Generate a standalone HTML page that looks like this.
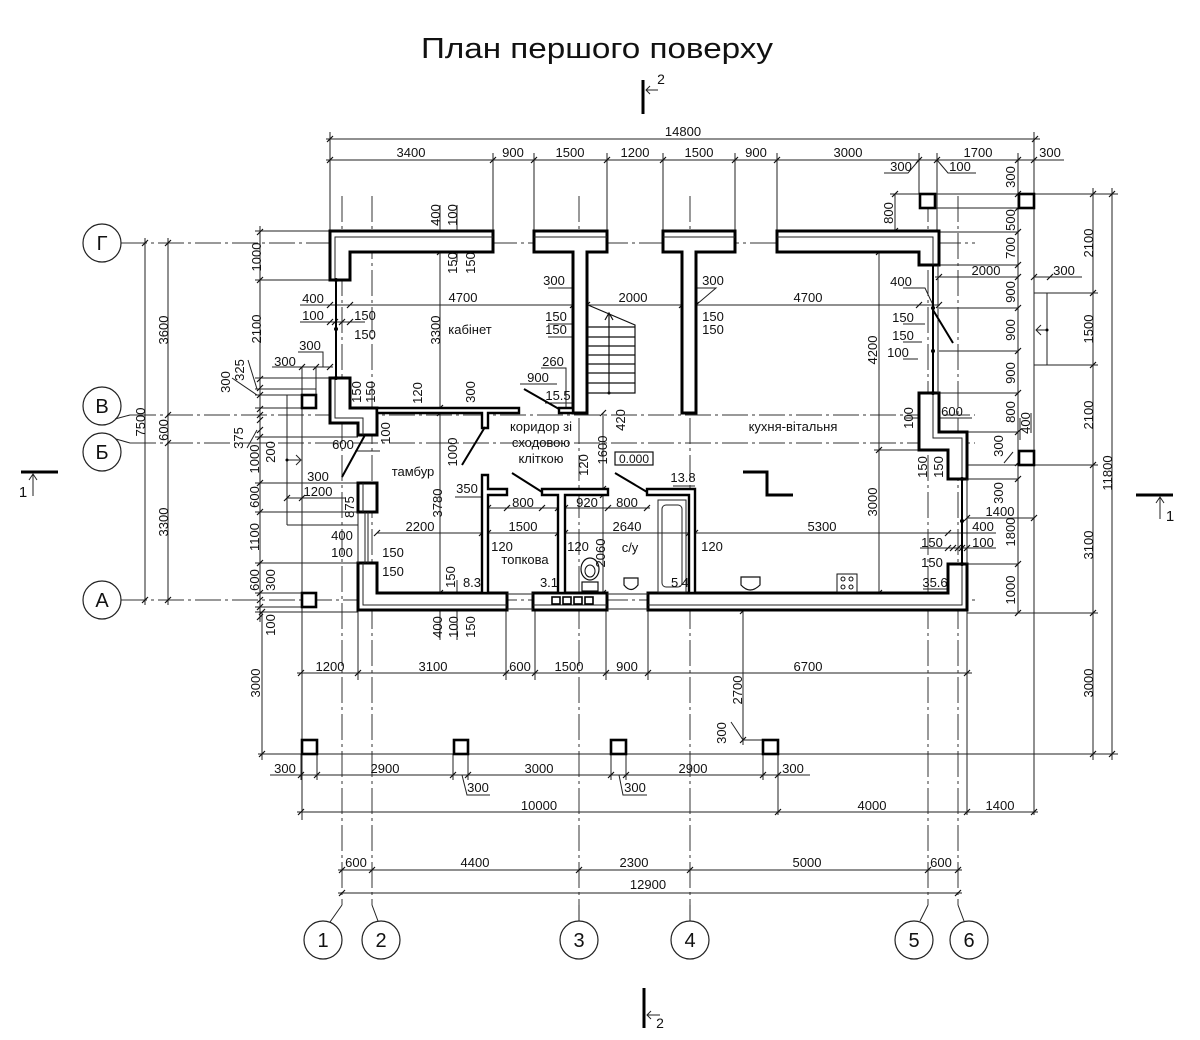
<!DOCTYPE html>
<html><head><meta charset="utf-8">
<style>
html,body{margin:0;padding:0;background:#fff}
svg{display:block}
text{font-family:"Liberation Sans",sans-serif;font-size:13px;fill:#111;text-anchor:middle}
.b{font-size:20px}
.th{stroke:#222;stroke-width:1;fill:none}
.ax{stroke:#333;stroke-width:1;fill:none;stroke-dasharray:26 4 3 4}
.w{fill:#fff;stroke:#000;stroke-width:3;stroke-linejoin:miter}
.p{fill:#fff;stroke:#000;stroke-width:2.4}
.tk{stroke:#111;stroke-width:1.2;fill:none}
.d{stroke:#000;stroke-width:2;fill:none}
</style></head><body>
<svg width="1200" height="1040" viewBox="0 0 1200 1040" xmlns="http://www.w3.org/2000/svg">
<rect width="1200" height="1040" fill="#fff"/>
<text x="597" y="58" style="font-size:29px" textLength="352" lengthAdjust="spacingAndGlyphs">План першого поверху</text>

<!-- axes -->
<path class="ax" d="M342 196V905M372 196V905M579 196V905M690 196V905M928 196V905M958 196V905M121 243H975M130 415H975M130 443H975M121 600H975"/>
<g fill="#fff" stroke="#222" stroke-width="1.2">
<circle cx="102" cy="243" r="19"/><circle cx="102" cy="406" r="19"/><circle cx="102" cy="452" r="19"/><circle cx="102" cy="600" r="19"/>
<circle cx="323" cy="940" r="19"/><circle cx="381" cy="940" r="19"/><circle cx="579" cy="940" r="19"/><circle cx="690" cy="940" r="19"/><circle cx="914" cy="940" r="19"/><circle cx="969" cy="940" r="19"/>
</g>
<path class="th" d="M115 419L130 415M116 439L130 443M330 922L342 905M378 921L372 905M579 921V905M690 921V905M920 921L928 905M964 921L958 905"/>
<text class="b" x="102" y="250">Г</text><text class="b" x="102" y="413">В</text><text class="b" x="102" y="459">Б</text><text class="b" x="102" y="607">А</text>
<text class="b" x="323" y="947">1</text><text class="b" x="381" y="947">2</text><text class="b" x="579" y="947">3</text><text class="b" x="690" y="947">4</text><text class="b" x="914" y="947">5</text><text class="b" x="969" y="947">6</text>

<!-- thin dimension & extension lines -->
<path class="th" d="M326 139H1040M326 160H1064M330 132V231M493 153V231M534 153V231M607 153V231M663 153V231M735 153V231M777 153V231M919 153V194M937 153V265M1018 153V613M1034 132V815M919 160L908 173H884M937 160L948 173H976"/>
<path class="th" d="M890 194H1118M935 208H1018M891 231H939M895 194V231M939 232H1018M939 265H1018M935 277H1018M1034 277H1082M939 308H1018M939 351H1018M1034 293H1098M1034 365H1098M1047 293V365M1036 330H1047M1041 325L1036 330L1041 335M939 393H1018M967 432H1018M967 465H1098M967 479H1018M967 518H1034M948 533H996M920 548H996M948 564H1018M967 613H1098M777 754H1118M1093 188V760M1112 188V760M1031 433V413M1004 463L1013 452"/>
<path class="th" d="M145 238V605M168 238V605M260 226V622M255 231H330M255 280H330M255 378H330M255 389H316M255 395H302M255 408H302M255 437H358M255 483H358M255 512H358M255 563H358M255 593H302M255 607H302M255 612H358M302 367V820M316 367V395M287 395V525M287 525H358M287 460H300M296 455L301 460L296 465M287 498H345M298 352H323V367M272 367H333M300 305H940M300 322H365M440 205V640M457 205V262M457 580V640M248 360L257 389M232 378L257 395M247 448L257 430"/>
<path class="th" d="M262 612V760M258 754H777M297 673H972M358 611V680M506 611V680M535 611V680M606 611V680M648 611V680M967 479V815M743 611V745M743 740H763M270 775H810M297 812H1038M301 754V780M317 754V780M453 754V780M468 754V780M611 754V780M626 754V780M763 754V780M778 754V815M338 870H962M338 893H962M462 775L467 795H490M619 775L623 795H647M743 740L731 722"/>
<path class="th" d="M879 252V593M874 450H948M603 413V593M377 533H948M488 508H650M455 497H482M355 451H380M905 418H972M903 288H925L933 305M903 324H925M903 342H922M903 359H918M548 288H575L580 305M548 324H575M548 337H573M541 368H566V408M520 384H557M545 403H572M692 288H716L696 305M692 324H696M692 337H696M923 589H948M673 486H695M1020 418V440"/>

<!-- ticks -->
<path class="tk" d="M327 142l6-6M1032 142l6-6M327 163l6-6M490 163l6-6M531 163l6-6M604 163l6-6M660 163l6-6M732 163l6-6M774 163l6-6M916 163l6-6M934 163l6-6M1015 163l6-6M1031 163l6-6M892 197l6-6M892 234l6-6
M1015 197l6-6M1015 211l6-6M1015 235l6-6M1015 268l6-6M1015 311l6-6M1015 354l6-6M1015 396l6-6M1015 435l6-6M1015 466l6-6M1015 482l6-6M1015 567l6-6M1015 616l6-6
M936 280l6-6M1015 280l6-6M1031 280l6-6M1047 280l6-6M1090 197l6-6M1090 296l6-6M1090 368l6-6M1090 468l6-6M1090 616l6-6M1090 757l6-6M1109 197l6-6M1109 757l6-6
M964 521l6-6M1031 521l6-6M945 551l6-6M950 551l6-6M955 551l6-6M959 551l6-6M964 551l6-6
M142 246l6-6M142 603l6-6M165 246l6-6M165 418l6-6M165 446l6-6M165 603l6-6
M257 235l6-6M257 283l6-6M257 382l6-6M257 391l6-6M257 398l6-6M257 412l6-6M257 418l6-6M257 423l6-6M257 433l6-6M257 440l6-6M257 486l6-6M257 515l6-6M257 566l6-6M257 596l6-6M257 603l6-6M257 610l6-6M257 620l6-6
M327 308l6-6M347 308l6-6M570 308l6-6M584 308l6-6M679 308l6-6M693 308l6-6M916 308l6-6M936 308l6-6M327 325l6-6M332 325l6-6M339 325l6-6M347 325l6-6M299 370l6-6M313 370l6-6M327 370l6-6M284 501l6-6M299 501l6-6
M259 615l6-6M259 757l6-6M298 676l6-6M355 676l6-6M503 676l6-6M532 676l6-6M603 676l6-6M645 676l6-6M964 676l6-6M740 614l6-6M740 743l6-6
M298 778l6-6M314 778l6-6M450 778l6-6M465 778l6-6M608 778l6-6M623 778l6-6M760 778l6-6M775 778l6-6M298 815l6-6M775 815l6-6M964 815l6-6M1031 815l6-6
M339 873l6-6M369 873l6-6M576 873l6-6M687 873l6-6M925 873l6-6M955 873l6-6M339 896l6-6M955 896l6-6
M876 255l6-6M876 453l6-6M876 596l6-6M437 255l6-6M437 411l6-6M437 416l6-6M437 596l6-6M600 416l6-6M600 492l6-6M600 498l6-6M600 596l6-6
M485 511l6-6M504 511l6-6M539 511l6-6M555 511l6-6M562 511l6-6M605 511l6-6M644 511l6-6M374 536l6-6M479 536l6-6M485 536l6-6M555 536l6-6M562 536l6-6M686 536l6-6M692 536l6-6M945 536l6-6"/>

<!-- walls -->
<path class="w" d="M330 280V231H493V252H350V280Z"/>
<path class="w" d="M534 231H607V252H587V413H573V252H534Z"/>
<path class="w" d="M663 231H735V252H696V413H682V252H663Z"/>
<path class="w" d="M777 231H939V265H919V252H777Z"/>
<path class="w" d="M330 378H350V408H377V435H358V423H330Z"/>
<path class="w" d="M358 483H377V512H358Z"/>
<path class="w" d="M358 563H377V593H507V610H358Z"/>
<path class="w" d="M533 593H607V610H533Z"/>
<path class="w" d="M648 593H948V564H967V610H648Z"/>
<path class="w" d="M919 393H939V432H967V479H948V450H919Z"/>
<path class="th" d="M335 280V237H493M534 237H607M663 237H735M777 237H933V265M335 378V418H363V435M363 483V512M363 563V605H507M533 605H607M648 605H962V564M933 393V438H962V479M507 594H533M507 609H533M607 594H648M607 609H648M938 265V393M967 479V564M358 512V563"/>
<!-- partitions -->
<path class="p" d="M377 408H519V413H488V428H482V413H377Z"/>
<path class="p" d="M559 408H573V413H559Z"/>
<path class="p" d="M482 475H488V489H507V495H488V593H482Z"/>
<path class="p" d="M542 489H608V495H565V593H558V495H542Z"/>
<path class="p" d="M647 489H695V593H689V495H647Z"/>

<!-- windows -->
<path stroke="#000" stroke-width="2" fill="none" d="M336 280V378M933 265V393M962 479V564"/>
<path class="th" d="M365 512V563M368 512V563"/>
<g fill="#000"><circle cx="336" cy="280" r="2"/><circle cx="336" cy="329" r="2"/><circle cx="336" cy="378" r="2"/><circle cx="933" cy="308" r="2"/><circle cx="933" cy="351" r="2"/><circle cx="933" cy="393" r="2"/><circle cx="962" cy="479" r="2"/><circle cx="962" cy="521" r="2"/><circle cx="962" cy="564" r="2"/><circle cx="1047" cy="330" r="1.5"/><circle cx="287" cy="460" r="1.5"/><circle cx="609" cy="393" r="1.5"/></g>

<!-- doors -->
<path class="d" d="M524 389L559 409M342 477L365 435M462 465L485 427M512 473L542 492M615 473L647 492M933 310L953 343"/>

<!-- stairs -->
<path stroke="#111" stroke-width="1.2" fill="none" d="M588 305L635 325V393H588M588 327H635M588 337H635M588 346H635M588 355H635M588 364H635M588 373H635M588 383H635M609 393V313M605 320L609 313L613 320"/>

<!-- fixtures -->
<rect x="615" y="452" width="38" height="13" fill="#fff" stroke="#111" stroke-width="1.2"/>
<path stroke="#000" stroke-width="3" fill="none" d="M743 472H767V495H793"/>
<rect x="658" y="500" width="28" height="92" fill="none" stroke="#222" stroke-width="1"/>
<rect x="662" y="505" width="20" height="82" rx="4" fill="none" stroke="#222" stroke-width="1"/>
<ellipse cx="590" cy="569" rx="9" ry="11" fill="#fff" stroke="#111" stroke-width="1.2"/>
<ellipse cx="590" cy="571" rx="5" ry="6" fill="none" stroke="#111" stroke-width="1"/>
<rect x="582" y="582" width="16" height="9" fill="#fff" stroke="#111" stroke-width="1.2"/>
<path stroke="#111" stroke-width="1.2" fill="none" d="M624 578H638V585Q631 594 624 585ZM741 577H760V585Q750 595 741 585Z"/>
<rect x="837" y="574" width="20" height="18" fill="none" stroke="#111" stroke-width="1"/>
<g fill="none" stroke="#111" stroke-width="1"><circle cx="843" cy="579" r="2"/><circle cx="851" cy="579" r="2"/><circle cx="843" cy="587" r="2"/><circle cx="851" cy="587" r="2"/></g>
<g fill="none" stroke="#000" stroke-width="1.6"><rect x="552" y="597" width="8" height="7"/><rect x="563" y="597" width="8" height="7"/><rect x="574" y="597" width="8" height="7"/><rect x="585" y="597" width="8" height="7"/></g>
<!-- columns -->
<g fill="#fff" stroke="#000" stroke-width="2.6">
<rect x="302" y="395" width="14" height="13"/><rect x="302" y="593" width="14" height="14"/>
<rect x="920" y="194" width="15" height="14"/><rect x="1019" y="194" width="15" height="14"/><rect x="1019" y="451" width="15" height="14"/>
<rect x="302" y="740" width="15" height="14"/><rect x="454" y="740" width="14" height="14"/><rect x="611" y="740" width="15" height="14"/><rect x="763" y="740" width="15" height="14"/>
</g>

<!-- section marks -->
<path stroke="#000" stroke-width="3" d="M643 80V114M644 988V1028M21 472H58M1136 495H1173"/>
<path class="th" d="M646 90H658M650 86L646 90L650 94M647 1015H660M651 1011L647 1015L651 1019M33 474V496M29 480L33 474L37 480M1160 497V519M1156 503L1160 497L1164 503"/>
<text x="661" y="84" style="font-size:14px">2</text>
<text x="660" y="1028" style="font-size:14px">2</text>
<text x="23" y="497" style="font-size:15px">1</text>
<text x="1170" y="521" style="font-size:15px">1</text>

<!-- horizontal labels -->
<text x="683" y="136">14800</text>
<text x="411" y="157">3400</text><text x="513" y="157">900</text><text x="570" y="157">1500</text><text x="635" y="157">1200</text><text x="699" y="157">1500</text><text x="756" y="157">900</text><text x="848" y="157">3000</text><text x="978" y="157">1700</text><text x="1050" y="157">300</text>
<text x="901" y="171">300</text><text x="960" y="171">100</text>
<text x="986" y="275">2000</text><text x="1064" y="275">300</text>
<text x="463" y="302">4700</text><text x="470" y="334">кабінет</text><text x="808" y="302">4700</text><text x="633" y="302">2000</text>
<text x="313" y="303">400</text><text x="313" y="320">100</text><text x="365" y="320">150</text><text x="365" y="339">150</text>
<text x="310" y="350">300</text><text x="285" y="366">300</text>
<text x="554" y="285">300</text><text x="556" y="321">150</text><text x="556" y="334">150</text><text x="553" y="366">260</text><text x="538" y="382">900</text><text x="558" y="400">15.5</text>
<text x="713" y="285">300</text><text x="713" y="321">150</text><text x="713" y="334">150</text>
<text x="901" y="286">400</text><text x="903" y="322">150</text><text x="903" y="340">150</text><text x="898" y="357">100</text>
<text x="952" y="416">600</text>
<text x="793" y="431">кухня-вітальня</text>
<text x="541" y="431">коридор зі</text><text x="541" y="447">сходовою</text><text x="541" y="463">кліткою</text>
<text x="634" y="463" style="font-size:12px">0.000</text>
<text x="683" y="482">13.8</text>
<text x="413" y="476">тамбур</text>
<text x="343" y="449">600</text>
<text x="318" y="481">300</text><text x="318" y="496">1200</text>
<text x="467" y="493">350</text>
<text x="523" y="507">800</text><text x="587" y="507">920</text><text x="627" y="507">800</text>
<text x="420" y="531">2200</text><text x="523" y="531">1500</text><text x="627" y="531">2640</text><text x="822" y="531">5300</text>
<text x="502" y="551">120</text><text x="525" y="564">топкова</text><text x="578" y="551">120</text><text x="630" y="552">с/у</text><text x="712" y="551">120</text>
<text x="342" y="540">400</text><text x="342" y="557">100</text><text x="393" y="557">150</text><text x="393" y="576">150</text>
<text x="472" y="587">8.3</text><text x="549" y="587">3.1</text><text x="680" y="587">5.4</text><text x="935" y="587">35.6</text>
<text x="1000" y="516">1400</text><text x="983" y="531">400</text><text x="983" y="547">100</text><text x="932" y="547">150</text><text x="932" y="567">150</text>
<text x="330" y="671">1200</text><text x="433" y="671">3100</text><text x="520" y="671">600</text><text x="569" y="671">1500</text><text x="627" y="671">900</text><text x="808" y="671">6700</text>
<text x="285" y="773">300</text><text x="385" y="773">2900</text><text x="539" y="773">3000</text><text x="693" y="773">2900</text><text x="793" y="773">300</text>
<text x="478" y="792">300</text><text x="635" y="792">300</text>
<text x="539" y="810">10000</text><text x="872" y="810">4000</text><text x="1000" y="810">1400</text>
<text x="356" y="867">600</text><text x="475" y="867">4400</text><text x="634" y="867">2300</text><text x="807" y="867">5000</text><text x="941" y="867">600</text>
<text x="648" y="889">12900</text>

<!-- rotated labels -->
<g>
<text transform="translate(145,422) rotate(-90)">7500</text>
<text transform="translate(168,330) rotate(-90)">3600</text>
<text transform="translate(168,430) rotate(-90)">600</text>
<text transform="translate(168,522) rotate(-90)">3300</text>
<text transform="translate(261,257) rotate(-90)">1000</text>
<text transform="translate(261,329) rotate(-90)">2100</text>
<text transform="translate(244,370) rotate(-90)">325</text>
<text transform="translate(230,382) rotate(-90)">300</text>
<text transform="translate(243,438) rotate(-90)">375</text>
<text transform="translate(275,452) rotate(-90)">200</text>
<text transform="translate(259,459) rotate(-90)">1000</text>
<text transform="translate(259,497) rotate(-90)">600</text>
<text transform="translate(259,537) rotate(-90)">1100</text>
<text transform="translate(259,580) rotate(-90)">600</text>
<text transform="translate(275,580) rotate(-90)">300</text>
<text transform="translate(275,625) rotate(-90)">100</text>
<text transform="translate(440,215) rotate(-90)">400</text>
<text transform="translate(457,215) rotate(-90)">100</text>
<text transform="translate(457,263) rotate(-90)">150</text>
<text transform="translate(475,263) rotate(-90)">150</text>
<text transform="translate(440,330) rotate(-90)">3300</text>
<text transform="translate(361,392) rotate(-90)">150</text>
<text transform="translate(375,392) rotate(-90)">150</text>
<text transform="translate(422,393) rotate(-90)">120</text>
<text transform="translate(475,392) rotate(-90)">300</text>
<text transform="translate(390,433) rotate(-90)">100</text>
<text transform="translate(457,452) rotate(-90)">1000</text>
<text transform="translate(354,507) rotate(-90)">875</text>
<text transform="translate(442,503) rotate(-90)">3780</text>
<text transform="translate(455,577) rotate(-90)">150</text>
<text transform="translate(605,553) rotate(-90)">2060</text>
<text transform="translate(442,627) rotate(-90)">400</text>
<text transform="translate(458,627) rotate(-90)">100</text>
<text transform="translate(475,627) rotate(-90)">150</text>
<text transform="translate(607,450) rotate(-90)">1600</text>
<text transform="translate(588,465) rotate(-90)">120</text>
<text transform="translate(625,420) rotate(-90)">420</text>
<text transform="translate(893,213) rotate(-90)">800</text>
<text transform="translate(877,350) rotate(-90)">4200</text>
<text transform="translate(877,502) rotate(-90)">3000</text>
<text transform="translate(913,418) rotate(-90)">100</text>
<text transform="translate(927,467) rotate(-90)">150</text>
<text transform="translate(943,467) rotate(-90)">150</text>
<text transform="translate(1015,177) rotate(-90)">300</text>
<text transform="translate(1015,220) rotate(-90)">500</text>
<text transform="translate(1015,248) rotate(-90)">700</text>
<text transform="translate(1015,292) rotate(-90)">900</text>
<text transform="translate(1015,330) rotate(-90)">900</text>
<text transform="translate(1015,373) rotate(-90)">900</text>
<text transform="translate(1015,412) rotate(-90)">800</text>
<text transform="translate(1030,423) rotate(-90)">400</text>
<text transform="translate(1003,446) rotate(-90)">300</text>
<text transform="translate(1003,493) rotate(-90)">300</text>
<text transform="translate(1015,532) rotate(-90)">1800</text>
<text transform="translate(1015,590) rotate(-90)">1000</text>
<text transform="translate(1093,243) rotate(-90)">2100</text>
<text transform="translate(1093,329) rotate(-90)">1500</text>
<text transform="translate(1093,415) rotate(-90)">2100</text>
<text transform="translate(1093,545) rotate(-90)">3100</text>
<text transform="translate(1093,683) rotate(-90)">3000</text>
<text transform="translate(1112,473) rotate(-90)">11800</text>
<text transform="translate(260,683) rotate(-90)">3000</text>
<text transform="translate(742,690) rotate(-90)">2700</text>
<text transform="translate(726,733) rotate(-90)">300</text>
</g>
</svg>
</body></html>
